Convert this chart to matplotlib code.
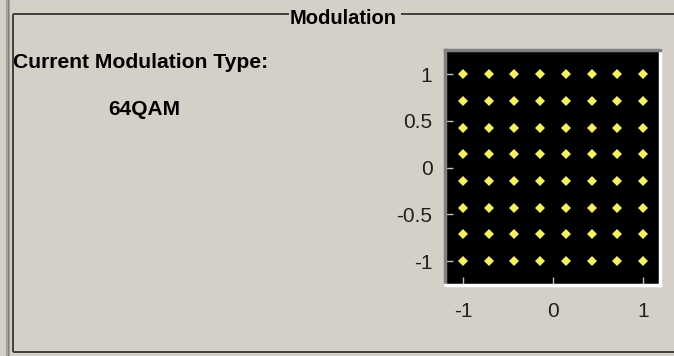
import numpy as np
import matplotlib
matplotlib.use("Agg")
import matplotlib.pyplot as plt

# 64QAM constellation levels (normalised)
i_levels = [-1.0, -0.714, -0.429, -0.143, 0.143, 0.429, 0.714, 1.0]
q_levels = [-1.0, -0.714, -0.429, -0.143, 0.143, 0.429, 0.714, 1.0]
x_ticks = [-1, 0, 1]
x_tick_labels = ["-1", "0", "1"]
y_ticks = [-1, -0.5, 0, 0.5, 1]
y_tick_labels = ["-1", "-0.5", "0", "0.5", "1"]
group_title = "Modulation"
type_label = "Current Modulation Type:"
type_value = "64QAM"

plt.rcParams['font.family'] = ['Liberation Sans', 'DejaVu Sans']
plt.rcParams['axes.unicode_minus'] = False

W, H = 674, 356
bg = "#d4d0c8"
fig = plt.figure(figsize=(W / 100, H / 100), dpi=100, facecolor=bg)

# overlay in pixel coords for the group box and labels
deco = fig.add_axes([0, 0, 1, 1])
deco.set_xlim(0, W)
deco.set_ylim(H, 0)
deco.axis("off")

# outer window edge on the left
deco.plot([8, 8], [0, H], color="#a8a49c", lw=3.0, solid_capstyle="butt")
deco.plot([8, 8], [0, H], color="#808080", lw=0.8, solid_capstyle="butt")
# group box frame
dark = "#404040"
deco.plot([12.5, 289], [14, 14], color=dark, lw=1.4, solid_capstyle="butt")
deco.plot([401, W], [14, 14], color=dark, lw=1.4, solid_capstyle="butt")
deco.plot([12.5, 12.5], [14, 352], color=dark, lw=1.4, solid_capstyle="butt")
deco.plot([12.5, W], [352, 352], color=dark, lw=1.4, solid_capstyle="butt")

deco.text(343, 24, group_title, ha="center", va="baseline",
          fontsize=14.5, fontweight="bold", color="black")
deco.text(13, 68, type_label, ha="left", va="baseline",
          fontsize=15.2, fontweight="bold", color="black")
deco.text(108, 115, type_value, ha="left", va="baseline",
          fontsize=15, fontweight="bold", color="black")

# constellation plot
ax = fig.add_axes([445 / W, 1 - 285 / H, 215 / W, 235 / H])
ax.set_facecolor("black")
I, Q = np.meshgrid(i_levels, q_levels)
ax.plot(I.ravel(), Q.ravel(), linestyle="none", marker="D",
        markersize=4.6, color="#f4f060", markeredgewidth=0)
ax.set_xlim(-1.2, 1.19)
ax.set_ylim(-1.257, 1.26)
ax.set_xticks(x_ticks)
ax.set_xticklabels(x_tick_labels)
ax.set_yticks(y_ticks)
ax.set_yticklabels(y_tick_labels)
ax.tick_params(direction="in", length=5.5, width=1, color="#c0c0c0",
               labelsize=15, labelcolor="#202020")
ax.tick_params(axis="y", pad=9)
ax.tick_params(axis="x", pad=12)
for side in ("left", "top"):
    ax.spines[side].set_color("#808080")
    ax.spines[side].set_linewidth(2.5)
for side in ("right", "bottom"):
    ax.spines[side].set_color("white")
    ax.spines[side].set_linewidth(2.5)

fig.savefig("out.png", dpi=100, facecolor=bg)
